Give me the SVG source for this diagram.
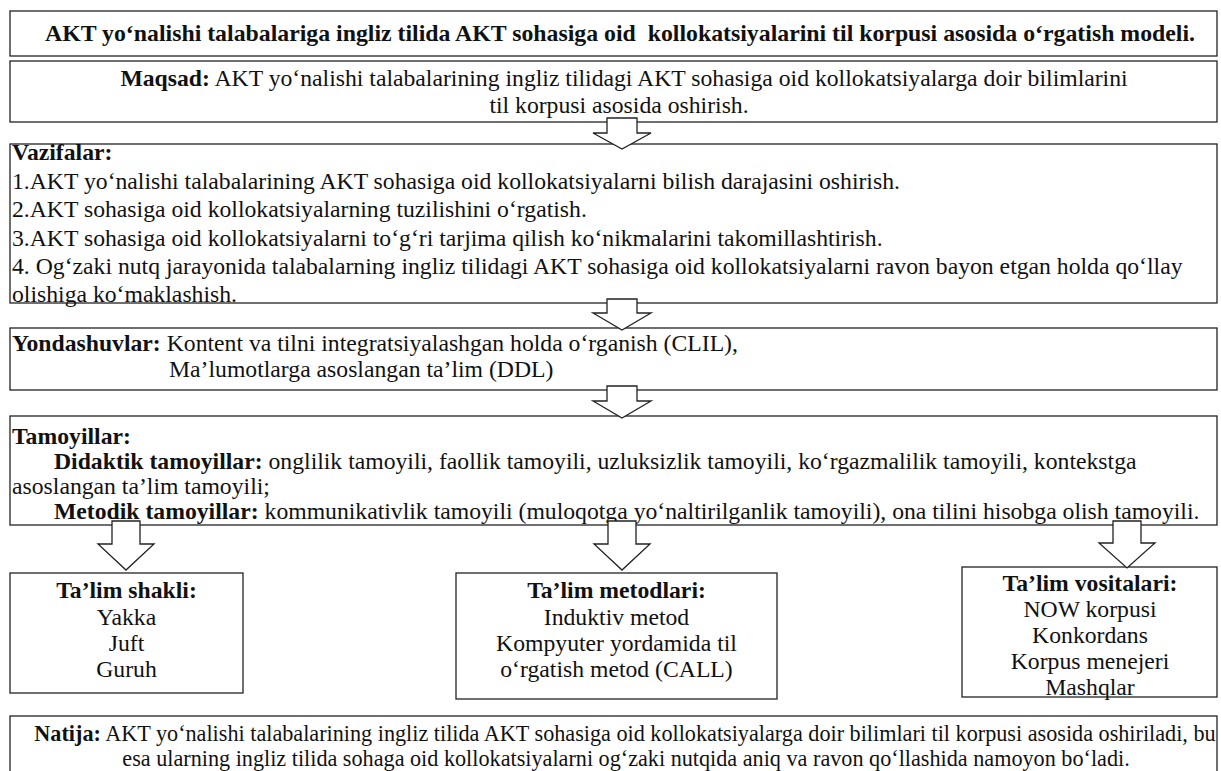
<svg xmlns="http://www.w3.org/2000/svg" width="1221" height="771" viewBox="0 0 1221 771">
<style>
text{font-family:"Liberation Serif","Times New Roman",serif;font-size:23.7px;fill:#111}
.b{font-weight:bold}
.m{text-anchor:middle}
.s{font-size:22.2px}
.box{fill:#fff;stroke:#222;stroke-width:1.3}
.arr{fill:#fff;stroke:#222;stroke-width:1.3;stroke-linejoin:miter}
</style>
<rect width="1221" height="771" fill="#fff"/>
<g id="title">
<rect class="box" x="10" y="11" width="1207" height="45"/>
<text class="b m" x="620" y="41" textLength="1150" lengthAdjust="spacingAndGlyphs">AKT yo‘nalishi talabalariga ingliz tilida AKT sohasiga oid&#160; kollokatsiyalarini til korpusi asosida o‘rgatish modeli.</text>
</g>
<g id="maqsad">
<rect class="box" x="10" y="61" width="1207" height="61"/>
<text class="m" x="624" y="86"><tspan class="b">Maqsad:</tspan> AKT yo‘nalishi talabalarining ingliz tilidagi AKT sohasiga oid kollokatsiyalarga doir bilimlarini</text>
<text class="m" x="619" y="113">til korpusi asosida oshirish.</text>
</g>
<g id="vazifalar">
<rect class="box" x="10" y="144" width="1207" height="159"/>
<text class="b" x="12" y="160">Vazifalar:</text>
<text x="12" y="189">1.AKT yo‘nalishi talabalarining AKT sohasiga oid kollokatsiyalarni bilish darajasini oshirish.</text>
<text x="12" y="217">2.AKT sohasiga oid kollokatsiyalarning tuzilishini o‘rgatish.</text>
<text x="12" y="246">3.AKT sohasiga oid kollokatsiyalarni to‘g‘ri tarjima qilish ko‘nikmalarini takomillashtirish.</text>
<text x="12" y="274">4. Og‘zaki nutq jarayonida talabalarning ingliz tilidagi AKT sohasiga oid kollokatsiyalarni ravon bayon etgan holda qo‘llay</text>
<text x="12" y="302">olishiga ko‘maklashish.</text>
</g>
<g id="yondashuvlar">
<rect class="box" x="10" y="328" width="1207" height="62"/>
<text x="12" y="351"><tspan class="b">Yondashuvlar:</tspan> Kontent va tilni integratsiyalashgan holda o‘rganish (CLIL),</text>
<text x="169" y="377">Ma’lumotlarga asoslangan ta’lim (DDL)</text>
</g>
<g id="tamoyillar">
<rect class="box" x="10" y="416" width="1207" height="109"/>
<text class="b" x="12" y="444">Tamoyillar:</text>
<text x="54" y="469"><tspan class="b">Didaktik tamoyillar:</tspan> onglilik tamoyili, faollik tamoyili, uzluksizlik tamoyili, ko‘rgazmalilik tamoyili, kontekstga</text>
<text x="12" y="494">asoslangan ta’lim tamoyili;</text>
<text x="54" y="519"><tspan class="b">Metodik tamoyillar:</tspan> kommunikativlik tamoyili (muloqotga yo‘naltirilganlik tamoyili), ona tilini hisobga olish tamoyili.</text>
</g>
<g id="talim-shakli">
<rect class="box" x="10" y="573" width="233" height="120"/>
<text class="b m" x="126.5" y="598">Ta’lim shakli:</text>
<text class="m" x="126.5" y="625">Yakka</text>
<text class="m" x="126.5" y="651">Juft</text>
<text class="m" x="126.5" y="677">Guruh</text>
</g>
<g id="talim-metodlari">
<rect class="box" x="456" y="573" width="321" height="126"/>
<text class="b m" x="616.5" y="598">Ta’lim metodlari:</text>
<text class="m" x="616.5" y="625">Induktiv metod</text>
<text class="m" x="616.5" y="651">Kompyuter yordamida til</text>
<text class="m" x="616.5" y="677">o‘rgatish metod (CALL)</text>
</g>
<g id="talim-vositalari">
<rect class="box" x="962" y="567" width="255" height="130"/>
<text class="b m" x="1090" y="591">Ta’lim vositalari:</text>
<text class="m" x="1090" y="617">NOW korpusi</text>
<text class="m" x="1090" y="643">Konkordans</text>
<text class="m" x="1090" y="669">Korpus menejeri</text>
<text class="m" x="1090" y="695">Mashqlar</text>
</g>
<g id="natija">
<rect class="box" x="10" y="716" width="1207" height="62"/>
<text class="m s" x="625" y="741"><tspan class="b">Natija:</tspan> AKT yo‘nalishi talabalarining ingliz tilida AKT sohasiga oid kollokatsiyalarga doir bilimlari til korpusi asosida oshiriladi, bu</text>
<text class="m s" x="626" y="766">esa ularning ingliz tilida sohaga oid kollokatsiyalarni og‘zaki nutqida aniq va ravon qo‘llashida namoyon bo‘ladi.</text>
</g>
<g id="connectors">
<polygon class="arr" points="607,118 637,118 637,133 651,133 622,149 593,133 607,133"/>
<polygon class="arr" points="607,299 637,299 637,313 651,313 622,330 593,313 607,313"/>
<polygon class="arr" points="607,386 637,386 637,401 651,401 622,418 593,401 607,401"/>
<polygon class="arr" points="112,521 140,521 140,544 154,544 126,570 98,544 112,544"/>
<polygon class="arr" points="608,521 636,521 636,544 650,544 622,570 594,544 608,544"/>
<polygon class="arr" points="1113,521 1141,521 1141,543 1155,543 1127,568 1099,543 1113,543"/>
</g>
</svg>
